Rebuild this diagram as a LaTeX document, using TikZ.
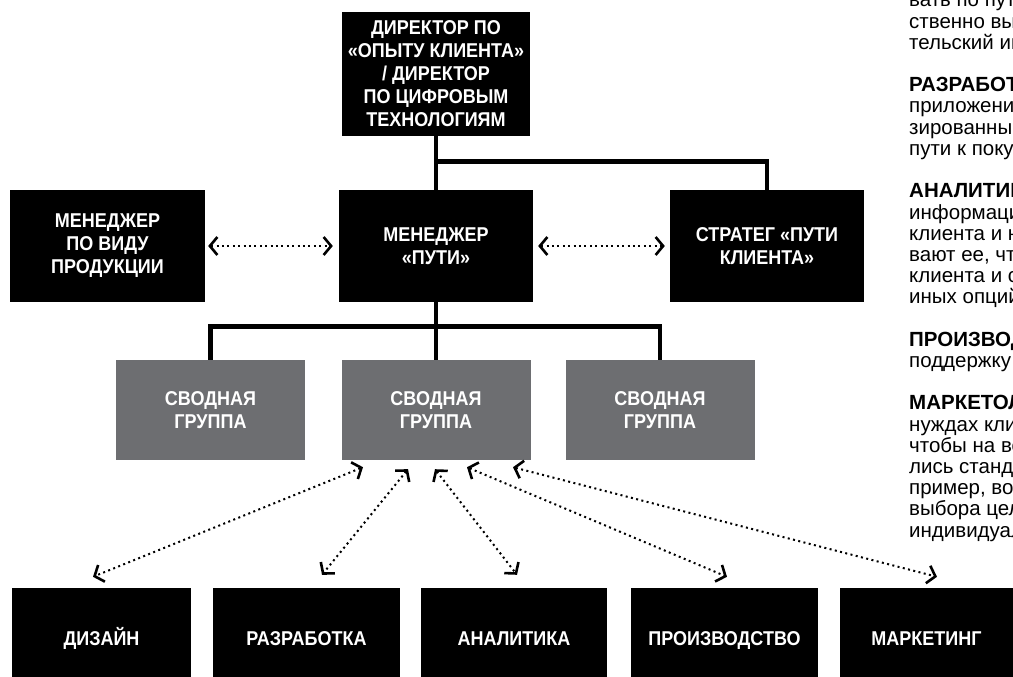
\documentclass[tikz,border=0pt]{standalone}
\usepackage{fontspec}
\setmainfont{Liberation Sans}
\newfontfamily\boxfont{Liberation Sans}[FakeStretch=0.9]
\usetikzlibrary{arrows.meta,calc}
\definecolor{grp}{HTML}{6D6E71}
\tikzset{
  blk/.style={fill=black, text=white, font=\boxfont\bfseries\fontsize{20}{23}\selectfont, align=center, inner sep=0pt},
  grpbox/.style={blk, fill=grp},
  onerow/.style={blk, text height=14.5pt, text depth=4pt},
  tree/.style={line width=4.5pt, line join=miter},
  tipb/.tip={Straight Barb[length=7.5pt,width=18pt,line width=2.6pt]},
  darr/.style={line width=2pt, dash pattern=on 2pt off 3.4pt, tipb-tipb},
  rtext/.style={anchor=base west, inner sep=0pt, font=\fontsize{20.5}{21}\selectfont}
}
\begin{document}
\begin{tikzpicture}[x=1pt,y=-1pt]
\useasboundingbox (0,0) rectangle (1013,677);
\clip (0,0) rectangle (1013,677);
% top
\node[blk, minimum width=188pt, minimum height=124pt] (top) at (436,74) {ДИРЕКТОР ПО\\«ОПЫТУ КЛИЕНТА»\\/ ДИРЕКТОР\\ПО ЦИФРОВЫМ\\ТЕХНОЛОГИЯМ};
% middle row
\node[blk, minimum width=195pt, minimum height=112pt] (lb) at (107.5,246) {МЕНЕДЖЕР\\ПО ВИДУ\\ПРОДУКЦИИ};
\node[blk, minimum width=194pt, minimum height=112pt] (mgr) at (436,246) {МЕНЕДЖЕР\\«ПУТИ»};
\node[blk, minimum width=194pt, minimum height=112pt] (str) at (767,246) {СТРАТЕГ «ПУТИ\\КЛИЕНТА»};
% groups
\node[grpbox, minimum width=189pt, minimum height=100pt] (g1) at (210.5,410) {СВОДНАЯ\\ГРУППА};
\node[grpbox, minimum width=189pt, minimum height=100pt] (g2) at (436,410) {СВОДНАЯ\\ГРУППА};
\node[grpbox, minimum width=189pt, minimum height=100pt] (g3) at (660,410) {СВОДНАЯ\\ГРУППА};
% bottom row
\node[onerow, minimum width=179pt, minimum height=104pt] (b1) at (101.5,640) {ДИЗАЙН};
\node[onerow, minimum width=187pt, minimum height=104pt] (b2) at (306.5,640) {РАЗРАБОТКА};
\node[onerow, minimum width=186pt, minimum height=104pt] (b3) at (514,640) {АНАЛИТИКА};
\node[onerow, minimum width=187pt, minimum height=104pt] (b4) at (724.5,640) {ПРОИЗВОДСТВО};
\node[onerow, minimum width=173pt, minimum height=104pt] (b5) at (926.5,640) {МАРКЕТИНГ};
% tree connectors
\coordinate (j1) at ($(top.south)!0.47!(mgr.north)$);
\coordinate (j2) at ($(mgr.south)!0.42!(g2.north)$);
\draw[tree] (top.south) -- (mgr.north);
\draw[tree] (j1) -| (str.north);
\draw[tree] (mgr.south) -- (g2.north);
\draw[tree] (g1.north) |- (j2) -| (g3.north);
% horizontal dotted arrows
\draw[darr] ([xshift=3pt]lb.east) -- ([xshift=-6pt]mgr.west);
\draw[darr] ([xshift=5pt]mgr.east) -- ([xshift=-5pt]str.west);
% lower dotted arrows
\coordinate (u1) at ($(g2.south)+(-73,7)$);
\coordinate (u2) at ($(g2.south)+(-28,9)$);
\coordinate (u3) at ($(g2.south)+(-1,9)$);
\coordinate (u4) at ($(g2.south)+(31,7)$);
\coordinate (u5) at ($(g2.south)+(77,7)$);
\coordinate (v1) at ($(b1.north)+(-8.5,-11)$);
\coordinate (v2) at ($(b2.north)+(15.5,-13)$);
\coordinate (v3) at ($(b3.north)+(3,-13)$);
\coordinate (v4) at ($(b4.north)+(2.5,-11)$);
\coordinate (v5) at ($(b5.north)+(10.5,-11)$);
\foreach \k in {1,...,5} \draw[darr] (u\k) -- (v\k);
% right column text
\foreach \i/\yy/\t in {
1/7/{вать по пути},
2/28.2/{ственно вып},
3/49.4/{тельский инт},
4/91.8/{\bfseries РАЗРАБОТЧИКИ},
5/113/{приложения},
6/134.2/{зированные},
7/155.4/{пути к покупке},
8/197.8/{\bfseries АНАЛИТИКИ},
9/219/{информацию},
10/240.2/{клиента и на},
11/261.4/{вают ее, чтобы},
12/282.6/{клиента и со},
13/303.8/{иных опций},
14/346.2/{\bfseries ПРОИЗВОДСТВО},
15/367.4/{поддержку},
16/409.8/{\bfseries МАРКЕТОЛОГИ},
17/431/{нуждах клиентов},
18/452.2/{чтобы на все},
19/473.4/{лись стандарт},
20/494.6/{пример, воз},
21/515.8/{выбора цели},
22/537/{индивидуаль}}
  \node[rtext] (t\i) at (909,\yy) {\t};
\end{tikzpicture}
\end{document}
